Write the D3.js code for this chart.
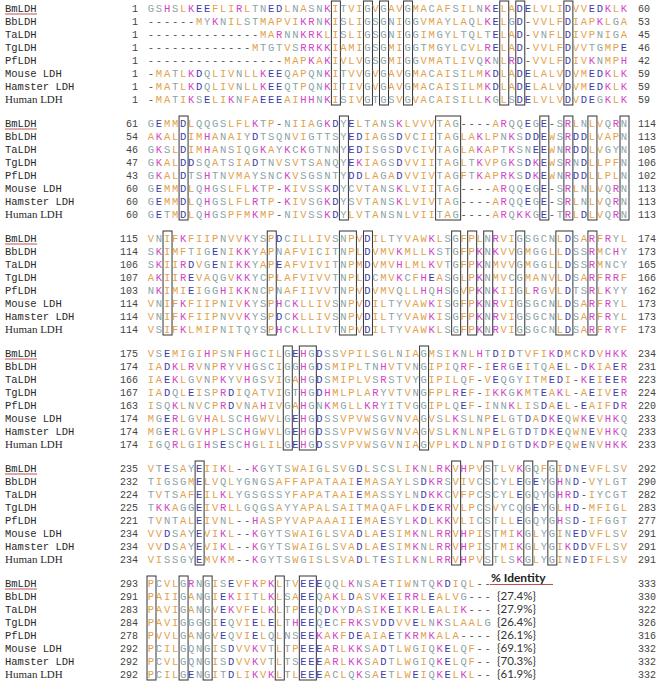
<!DOCTYPE html>
<html>
<head>
<meta charset="utf-8">
<style>
body { margin: 0; background: #fff; }
text { font-family: "Liberation Mono", monospace; }
.res { font-size: 10.5px; }
.lab { font-size: 10.5px; fill: #2a2a2a; }
.num { font-size: 10px; fill: #444; }
.pct { font-family: Lato, "Open Sans", sans-serif; font-size: 11.5px; fill: #333; }
</style>
</head>
<body>
<script src="https://cdn.jsdelivr.net/npm/d3@7"></script>
<script>

var names = ["BmLDH", "BbLDH", "TaLDH", "TgLDH", "PfLDH", "Mouse LDH", "Hamster LDH", "Human LDH"];

var block1 = [
  "GSHSLKEEFLIRLTNEDLNASNKITVIGVGAVGMACAFSILNKELADELVLIDVVEDKLK",
  "------MYKNILSTMAPVIKRNKISLIGSGNIGGVMAYLAQLKELGD-VVLFDIAPKLGA",
  "--------------MARNNKRKLISLIGSGNIGGIMGYLTQLTELAD-VNFLDIVPNIGA",
  "-------------MTGTVSRRKKIAMIGSGMIGGTMGYLCVLRELAD-VVLFDVVTGMPE",
  "-----------------MAPKAKIVLVGSGMIGGVMATLIVQKNLRD-VVLFDIVKNMPH",
  "-MATLKDQLIVNLLKEEQAPQNKITVVGVGAVGMACAISILMKDLADELALVDVMEDKLK",
  "-MATLKDQLIVNLLKEEQTPQNKITIVGVGAVGMACAISILMKDLADELALVDVMEDKLK",
  "-MATIKSELIKNFAEEEAIHHNKISIVGTGSVGVACAISILLKGLSDELVLVDVDEGKLK"
];
var block2 = [
  "GEMMDLQQGSLFLKTP-NIIAGKDYELTANSKLVVVTAG----ARQQEGE-SRLNLVQRN",
  "AKALDIMHANAIYDTSQNVIGTTSYEDIAGSDVCIITAGLAKLPNKSDDEWSRDDLVAPN",
  "GKSLDIMHANSIQGKAYKCKGTNNYEDISGSDVCIVTAGLAKAPTKSNEEWNRDDLVGYN",
  "GKALDDSQATSIADTNVSVTSANQYEKIAGSDVVIITAGLTKVPGKSDKEWSRNDLLPFN",
  "GKALDTSHTNVMAYSNCKVSGSNTYDDLAGADVVIVTAGFTKAPRKSDKEWNRDDLLPLN",
  "GEMMDLQHGSLFLKTP-KIVSSKDYCVTANSKLVIITAG----ARQQEGE-SRLNLVQRN",
  "GEMMDLQHGSLFLRTP-KIVSGKDYSVTANSKLVIVTAG----ARQQEGE-SRLNLVQRN",
  "GETMDLQHGSPFMKMP-NIVSSKDYLVTANSNLVIITAG----ARQKKGE-TRLDLVQRN"
];
var block3 = [
  "VNIFKFIIPNVVKYSPDCILLIVSNPVDILTYVAWKLSGFPLNRVIGSGCNLDSARFRYL",
  "SKIMFTIGENIKKYAPNAFVICITNPLDVMVKMLLKSTGFPKNKVVGMGGLLDSSRMCHY",
  "SKIIRDVGENIKKYAPEAFVIVITNPMDVMVHLMLKVTGFPKNMVVGMGGLLDSSRMNCY",
  "AKIIREVAQGVKKYCPLAFVIVVTNPLDCMVKCFHEASGLPKNMVCGMANVLDSARFRRF",
  "NKIMIEIGGHIKKNCPNAFIIVVTNPVDVMVQLLHQHSGVPKNKIIGLRGVLDTSRLKYY",
  "VNIFKFIIPNIVKYSPHCKLLIVSNPVDILTYVAWKISGFPKNRVIGSGCNLDSARFRYL",
  "VNIFKFIIPNVVKYSPDCKLLIVSNPVDILTYVAWKISGFPKNRVIGSGCNLDSARFRYL",
  "VSIFKLMIPNITQYSPHCKLLIVTNPVDILTYVAWKLSGFPKNRVIGSGCNLDSARFRYF"
];
var block4 = [
  "VSEMIGIHPSNFHGCILGEHGDSSVPILSGLNIAGMSIKNLHTDIDTVFIKDMCKDVHKK",
  "IADKLRVNPRYVHGSCIGGHGDSMIPLTNHVTVNGIPIQRF-IERGEITQAEL-DKIAER",
  "IAEKLGVNPKYVHGSVIGAHGDSMIPLVSRSTVYGIPILQF-VEQGYITMEDI-KEIEER",
  "IADQLEISPRDIQATVIGTHGDHMLPLARYVTVNGFPLREF-IKKGKMTEAKL-AEIVER",
  "ISQKLNVCPRDVNAHIVGAHGNKMGLLKRYITVGGIPLQEF-INNKLISDAEL-EAIFDR",
  "MGERLGVHALSCHGWVLGEHGDSSVPVWSGVNVAGVSLKSLNPELGTDADKEQWKEVHKQ",
  "MGERLGVHPLSCHGWVLGEHGDSSVPVWSGVNVAGVSLKNLNPELGTDTDKEQWNEVHKQ",
  "IGQRLGIHSESCHGLILGEHGDSSVPVWSGVNIAGVPLKDLNPDIGTDKDPEQWENVHKK"
];
var block5 = [
  "VTESAYEIIKL--KGYTSWAIGLSVGDLSCSLIKNLRKVHPVSTLVKGQFGIDNEVFLSV",
  "TIGSGMELVQLYGNGSAFFAPATAAIEMASAYLSDKRSVIVCSCYLEGEYGHND-VYLGT",
  "TVTSAFEILKLYGSGSSYFAPATAAIEMASSYLNDKKCVFPCSCYLEGQYGHRD-IYCGT",
  "TKKAGGEIVRLLGQGSAYYAPALSAITMAQAFLKDEKRVLPCSVYCQGEYGLHD-MFIGL",
  "TVNTALEIVNL--HASPYVAPAAAIIEMAESYLKDLKKVLICSTLLEGQYGHSD-IFGGT",
  "VVDSAYEVIKL--KGYTSWAIGLSVADLAESIMKNLRRVHPISTMIKGLYGINEDVFLSV",
  "VVDSAYEVIKL--KGYTSWAIGLSVADLAESIMKNLRRVHPISTMIKGLYGIKDDVFLSV",
  "VISSGYEMVKM--KGYTSWGISLSVADLTESILKNLRRVHPVSTLSKGLYGINEDIFLSV"
];
var block6 = [
  "PCVLGRNGISEVFKPKLTVEEEQQLKNSAETIWNTQKDIQL--",
  "PAIIGANGIEKIITLKLSAEEQAKLDASVKEIRRLEALVG---",
  "PAVIGANGVEKVFELKLTPEEQDKYDASIKEIKRLEALIK---",
  "PAVIGGGGIEQVIELELTHEEQECFRKSVDDVVELNKSLAALG",
  "PVVLGANGVEQVIELQLNSEEKAKFDEAIAETKRMKALA----",
  "PCILGQNGISDVVKVTLTPEEEARLKKSADTLWGIQKELQF--",
  "PCVLGQNGISDVVKVTLTSEEEARLKKSADTLWGIQKELQF--",
  "PCILGENGITDLIKVKLTLEEEACLQKSAETLWEIQKELKL--"
];

var identity = [null, 27.4, 27.9, 26.4, 26.1, 69.1, 70.3, 61.9];

var blocks = [block1, block2, block3, block4, block5, block6];

var width = 662,
    height = 683;

var svg = d3.select("body").append("svg")
    .attr("width", width)
    .attr("height", height);

// column and row placement
var x = d3.scaleLinear().domain([1, 60]).range([151, 624]);
var rowY = d3.scaleLinear().domain([0, 7]).range([0, 91]);
var blockY = d3.scaleLinear().domain([0, 5]).range([8, 583]);

// residue colours by class
function resColor(c) {
  if ("AVFPMILW".indexOf(c) >= 0) return "#e2a24c";
  if ("DE".indexOf(c) >= 0) return "#3d3da8";
  if ("RKH".indexOf(c) >= 0) return "#d246c6";
  if ("STYCNGQ".indexOf(c) >= 0) return "#8aa2a6";
  return "#555";
}

var pos = names.map(function() { return 1; });

blocks.forEach(function(block, b) {
  var y0 = blockY(b);
  var g = svg.append("g");

  // conserved columns -> boxes
  var ncol = block[0].length;
  var runs = [];
  for (var c = 0; c < ncol; c++) {
    var ch = block[0][c];
    var same = ch != "-" && block.every(function(s) { return s[c] == ch; });
    if (same) {
      var last = runs[runs.length - 1];
      if (last && last[1] == c - 1) last[1] = c;
      else runs.push([c, c]);
    }
  }
  g.selectAll("rect.box")
    .data(runs)
    .enter().append("rect")
    .attr("class", "box")
    .attr("x", function(d) { return x(d[0] + 1) - 4; })
    .attr("y", y0 - 7)
    .attr("width", function(d) { return x(d[1] + 1) - x(d[0] + 1) + 9; })
    .attr("height", rowY(7) + 13)
    .attr("fill", "none")
    .attr("stroke", "#333")
    .attr("stroke-width", 1);

  block.forEach(function(seq, i) {
    var yy = y0 + rowY(i);
    var count = seq.replace(/-/g, "").length;
    var start = pos[i], end = pos[i] + count - 1;
    pos[i] = end + 1;

    g.append("text")
      .attr("class", "lab")
      .attr("x", 5)
      .attr("y", yy + 3.5)
      .style("font-family", names[i] == "Human LDH" ? "Liberation Serif" : null)
      .style("font-size", names[i] == "Human LDH" ? "11px" : null)
      .text(names[i]);

    g.append("text")
      .attr("class", "num")
      .attr("x", 138)
      .attr("y", yy + 3.5)
      .attr("text-anchor", "end")
      .text(start);

    g.append("text")
      .attr("class", "num")
      .attr("x", 638)
      .attr("y", yy + 3.5)
      .text(end);

    g.selectAll("text.r" + i)
      .data(seq.split(""))
      .enter().append("text")
      .attr("class", "res r" + i)
      .attr("x", function(d, k) { return x(k + 1); })
      .attr("y", yy + 3.5)
      .attr("text-anchor", "middle")
      .attr("fill", function(d) { return resColor(d); })
      .text(function(d) { return d; });

    if (b == 5 && identity[i] != null) {
      g.append("text")
        .attr("class", "pct")
        .attr("x", 497)
        .attr("y", yy + 4)
        .text("{" + identity[i].toFixed(1) + "%}");
    }
  });

  // underline for the query
  g.append("line")
    .attr("x1", 5).attr("x2", 37)
    .attr("y1", y0 + 6).attr("y2", y0 + 6)
    .attr("stroke", "#c0504d")
    .attr("stroke-width", 1);
});

// identity header
var yh = blockY(5);
svg.append("text")
  .attr("x", 491)
  .attr("y", yh - 1)
  .style("font-family", "Lato, 'Open Sans', sans-serif")
  .style("font-weight", "bold")
  .style("font-size", "12px")
  .attr("fill", "#222")
  .text("% Identity");
svg.append("line")
  .attr("x1", 490).attr("x2", 553)
  .attr("y1", yh + 1.5).attr("y2", yh + 1.5)
  .attr("stroke", "#c0504d")
  .attr("stroke-width", 1.2);

</script>
</body>
</html>
